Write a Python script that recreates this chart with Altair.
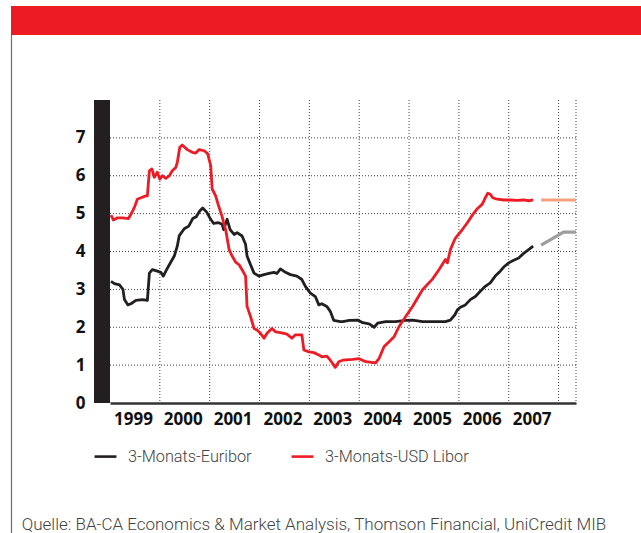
import altair as alt
import pandas as pd

# ---------------- data ----------------
series_names = ["3-Monats-Euribor", "3-Monats-USD Libor"]

euribor_years = [1999.02, 1999.09, 1999.19, 1999.26, 1999.29, 1999.36, 1999.42, 1999.52, 1999.65, 1999.75,
                 1999.79, 1999.85, 1999.95, 2000.02, 2000.07, 2000.12, 2000.19, 2000.29, 2000.35, 2000.39,
                 2000.49, 2000.58, 2000.66, 2000.73, 2000.80, 2000.86, 2000.94, 2001.02, 2001.08, 2001.18,
                 2001.25, 2001.28, 2001.35, 2001.41, 2001.49, 2001.55, 2001.65, 2001.72, 2001.75, 2001.82,
                 2001.89, 2001.99, 2002.09, 2002.19, 2002.29, 2002.35, 2002.42, 2002.52, 2002.62, 2002.75,
                 2002.85, 2002.92, 2003.02, 2003.12, 2003.19, 2003.25, 2003.35, 2003.42, 2003.49, 2003.62,
                 2003.67, 2003.80, 2003.97, 2004.07, 2004.20, 2004.30, 2004.37, 2004.53, 2004.73, 2004.93,
                 2005.07, 2005.27, 2005.53, 2005.73, 2005.83, 2005.92, 2005.97, 2006.03, 2006.13, 2006.23,
                 2006.33, 2006.43, 2006.53, 2006.63, 2006.73, 2006.83, 2006.90, 2007.00, 2007.10, 2007.20,
                 2007.30, 2007.40, 2007.49]
euribor_vals = [3.21, 3.15, 3.12, 3.00, 2.73, 2.59, 2.62, 2.71, 2.73, 2.71,
                3.43, 3.52, 3.48, 3.45, 3.35, 3.48, 3.65, 3.88, 4.14, 4.42,
                4.60, 4.67, 4.87, 4.92, 5.07, 5.15, 5.04, 4.85, 4.74, 4.76,
                4.72, 4.58, 4.85, 4.58, 4.45, 4.50, 4.41, 4.19, 3.88, 3.65,
                3.43, 3.35, 3.39, 3.42, 3.45, 3.42, 3.54, 3.45, 3.39, 3.35,
                3.26, 3.08, 2.90, 2.81, 2.59, 2.62, 2.55, 2.42, 2.18, 2.15,
                2.15, 2.18, 2.19, 2.12, 2.09, 2.00, 2.11, 2.15, 2.15, 2.18,
                2.19, 2.15, 2.15, 2.15, 2.19, 2.33, 2.46, 2.53, 2.59, 2.73,
                2.81, 2.95, 3.08, 3.17, 3.35, 3.48, 3.59, 3.70, 3.77, 3.83,
                3.95, 4.05, 4.14]

libor_years = [1999.02, 1999.07, 1999.15, 1999.25, 1999.37, 1999.44, 1999.50, 1999.55, 1999.62, 1999.72,
               1999.75, 1999.79, 1999.84, 1999.89, 1999.95, 2000.00, 2000.05, 2000.12, 2000.19, 2000.25,
               2000.32, 2000.35, 2000.40, 2000.45, 2000.55, 2000.65, 2000.72, 2000.79, 2000.89, 2000.96,
               2001.02, 2001.05, 2001.12, 2001.18, 2001.25, 2001.28, 2001.32, 2001.39, 2001.45, 2001.52,
               2001.59, 2001.65, 2001.72, 2001.75, 2001.82, 2001.89, 2001.95, 2002.02, 2002.09, 2002.15,
               2002.25, 2002.32, 2002.42, 2002.55, 2002.65, 2002.72, 2002.85, 2002.89, 2002.99, 2003.09,
               2003.19, 2003.25, 2003.35, 2003.42, 2003.49, 2003.52, 2003.59, 2003.67, 2003.87, 2004.00,
               2004.13, 2004.33, 2004.40, 2004.50, 2004.60, 2004.70, 2004.80, 2004.93, 2005.07, 2005.27,
               2005.47, 2005.60, 2005.73, 2005.77, 2005.83, 2005.92, 2005.97, 2006.07, 2006.17, 2006.27,
               2006.37, 2006.47, 2006.53, 2006.58, 2006.63, 2006.68, 2006.77, 2006.90, 2007.03, 2007.17,
               2007.30, 2007.40, 2007.49]
libor_vals = [4.96, 4.83, 4.89, 4.89, 4.87, 5.03, 5.20, 5.38, 5.42, 5.47,
              5.47, 6.13, 6.18, 5.96, 6.09, 5.91, 6.00, 5.93, 6.00, 6.13,
              6.22, 6.35, 6.75, 6.81, 6.69, 6.62, 6.60, 6.69, 6.66, 6.58,
              6.27, 5.65, 5.47, 5.20, 4.92, 4.76, 4.58, 4.05, 3.88, 3.72,
              3.65, 3.52, 3.35, 2.55, 2.28, 1.97, 1.93, 1.84, 1.71, 1.84,
              1.97, 1.88, 1.86, 1.82, 1.71, 1.80, 1.80, 1.40, 1.35, 1.33,
              1.27, 1.22, 1.24, 1.13, 1.00, 0.94, 1.09, 1.13, 1.15, 1.17,
              1.09, 1.06, 1.18, 1.49, 1.62, 1.75, 2.02, 2.28, 2.55, 2.99,
              3.27, 3.52, 3.79, 3.70, 4.05, 4.33, 4.42, 4.58, 4.76, 4.96,
              5.13, 5.25, 5.42, 5.54, 5.51, 5.42, 5.38, 5.36, 5.36, 5.35,
              5.36, 5.34, 5.36]

fc_euribor_years = [2007.65, 2008.10, 2008.35]
fc_euribor_vals = [4.17, 4.51, 4.51]
fc_libor_years = [2007.65, 2008.35]
fc_libor_vals = [5.36, 5.36]

year_labels = [1999, 2000, 2001, 2002, 2003, 2004, 2005, 2006, 2007]
grid_years = [2000, 2001, 2002, 2003, 2004, 2005, 2006, 2007, 2008, 2008.35]
grid_levels = [1, 2, 3, 4, 5, 6, 7]
y_ticks = [0, 1, 2, 3, 4, 5, 6, 7]
source_text = "Quelle: BA-CA Economics & Market Analysis, Thomson Financial, UniCredit MIB"

# ---------------- layout ----------------
W, H = 466, 303
xscale = alt.Scale(domain=[1999, 2008.35], nice=False, zero=False)
yscale = alt.Scale(domain=[0, 8], nice=False, zero=True)
one = pd.DataFrame({"a": [0]})

x_axis = alt.Axis(values=[y + 0.5 for y in year_labels],
                  labelExpr="toString(floor(datum.value))",
                  ticks=False, tickSize=0, grid=False, domain=True,
                  domainColor="#333333", domainWidth=2.6,
                  labelFont="Open Sans", labelFontSize=17, labelFontWeight="bold",
                  labelColor="#111111", labelPadding=8, labelOffset=-2,
                  labelFlush=False, labelOverlap=False)
y_axis = alt.Axis(values=y_ticks, ticks=False, tickSize=0, grid=False, domain=False,
                  labelFont="Open Sans", labelFontSize=17, labelFontWeight="bold",
                  labelColor="#111111", labelPadding=25)


def X(field):
    return alt.X(field, scale=xscale, title=None, axis=x_axis)


def Y(field):
    return alt.Y(field, scale=yscale, title=None, axis=y_axis)


df = pd.DataFrame({
    "year": euribor_years + libor_years,
    "value": euribor_vals + libor_vals,
    "series": [series_names[0]] * len(euribor_years) + [series_names[1]] * len(libor_years),
})

banner = alt.Chart(one).mark_rect(color="#ed1c24").encode(
    x=alt.value(-99), x2=alt.value(531), y=alt.value(-94), y2=alt.value(-65))
left_line = alt.Chart(one).mark_rule(color="#6d6d6d", strokeWidth=1.2).encode(
    x=alt.value(-98.5), y=alt.value(-65), y2=alt.value(440))

vgrid = alt.Chart(pd.DataFrame({"year": grid_years})).mark_rule(
    color="#444444", strokeDash=[1, 2], strokeWidth=1).encode(x=X("year:Q"))
hgrid = alt.Chart(pd.DataFrame({"value": grid_levels})).mark_rule(
    color="#444444", strokeDash=[1, 2], strokeWidth=1).encode(y=Y("value:Q"))

lines = alt.Chart(df).mark_line(strokeWidth=2.8, strokeJoin="round").encode(
    x=X("year:Q"),
    y=Y("value:Q"),
    color=alt.Color("series:N",
                    scale=alt.Scale(domain=series_names, range=["#231f20", "#ed1c24"]),
                    legend=alt.Legend(title=None, orient="none", legendX=-17, legendY=344,
                                      direction="horizontal", symbolType="stroke",
                                      symbolSize=480, symbolStrokeWidth=2.6,
                                      labelFont="Roboto", labelFontSize=16.3, labelFontWeight=300,
                                      labelColor="#444444", labelOffset=10,
                                      columnPadding=34, padding=0)),
)

fc_eur = alt.Chart(pd.DataFrame({"year": fc_euribor_years, "value": fc_euribor_vals})).mark_line(
    color="#9d9d9d", strokeWidth=3.2).encode(x=X("year:Q"), y=Y("value:Q"))
fc_lib = alt.Chart(pd.DataFrame({"year": fc_libor_years, "value": fc_libor_vals})).mark_line(
    color="#f5a07f", strokeWidth=3.2).encode(x=X("year:Q"), y=Y("value:Q"))

black_bar = alt.Chart(one).mark_rect(color="#231f20").encode(
    x=alt.value(-16), x2=alt.value(0), y=alt.value(0), y2=alt.value(H))

source = alt.Chart(pd.DataFrame({"t": [source_text]})).mark_text(
    align="left", baseline="alphabetic", font="Roboto", fontSize=17, fontWeight=300,
    color="#444444").encode(x=alt.value(-88.3), y=alt.value(430), text="t:N")

chart = alt.layer(
    banner, left_line, vgrid, hgrid, lines, fc_eur, fc_lib, black_bar, source
).properties(
    width=W, height=H,
    padding={"left": 110, "top": 100, "right": 65, "bottom": 130},
    autosize=alt.AutoSizeParams(type="none"),
    background="white",
).configure_view(stroke=None)

chart.save("out.html", embed_options={"renderer": "svg", "actions": False})
